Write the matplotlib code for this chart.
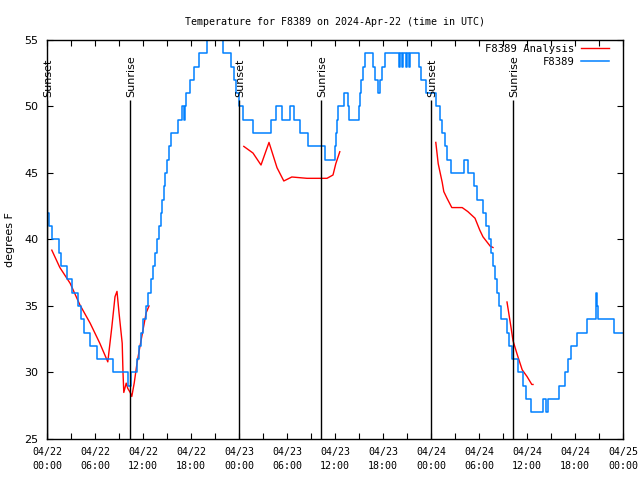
import numpy as np
import matplotlib
matplotlib.use('Agg')
import matplotlib.pyplot as plt

# hours since 04/22 00:00 UTC
obs_hours = [0.0, 0.25, 0.6, 1.5, 1.75, 2.5, 3.1, 3.9, 4.25, 4.6, 5.4, 6.25, 8.25, 10.1, 10.5,
             11.25, 11.5, 11.75, 12.0, 12.4, 12.6, 13.0, 13.25, 13.5, 13.75, 14.0, 14.25, 14.4,
             14.6, 14.75, 15.0, 15.25, 15.5, 16.4, 16.9, 17.1, 17.25, 17.4, 17.9, 18.4, 19.0,
             20.0, 20.4, 21.6, 22.0, 23.0, 23.4, 23.6, 24.0, 24.5, 25.75, 28.0, 28.6, 29.4,
             30.4, 30.9, 31.6, 32.6, 34.75, 36.0, 36.1, 36.25, 36.4, 37.1, 37.6, 37.75, 39.0,
             39.1, 39.25, 39.5, 39.75, 40.75, 41.0, 41.4, 41.6, 41.9, 42.25, 44.0, 44.1, 44.4,
             44.5, 44.9, 45.0, 45.25, 45.4, 46.5, 46.75, 47.4, 48.6, 49.1, 49.4, 49.75, 50.0,
             50.5, 52.1, 52.6, 53.4, 53.75, 54.5, 54.9, 55.25, 55.5, 55.75, 56.0, 56.25, 56.5,
             56.75, 57.5, 57.75, 58.1, 58.9, 59.5, 59.9, 60.5, 62.0, 62.4, 62.6, 64.0, 64.75,
             65.1, 65.5, 66.25, 67.5, 68.6, 68.75, 68.9, 70.9, 72.0]
obs_temp = [42, 41, 40, 39, 38, 37, 36, 35, 34, 33, 32, 31, 30, 29, 30,
            31, 32, 33, 34, 35, 36, 37, 38, 39, 40, 41, 42, 43,
            44, 45, 46, 47, 48, 49, 50, 49, 50, 51, 52, 53, 54,
            55, 56, 55, 54, 53, 52, 51, 50, 49, 48, 49, 50, 49,
            50, 49, 48, 47, 46, 47, 48, 49, 50, 51, 50, 49, 50,
            51, 52, 53, 54, 53, 52, 51, 52, 53, 54, 53, 54, 53,
            54, 53, 54, 53, 54, 53, 52, 51, 50, 49, 48, 47, 46,
            45, 46, 45, 44, 43, 42, 41, 40, 39, 38, 37, 36, 35,
            34, 33, 32, 31, 30, 29, 28, 27, 28, 27, 28, 29, 30,
            31, 32, 33, 34, 36, 35, 34, 33, 33]

nan = np.nan
ana_hours = [0.6, 1.6, 2.9, 4.1, 5.4, 6.6, 7.6, 8.1, 8.5, 8.75, 9.0, 9.4, 9.5, 9.6, 9.9,
             10.1, 10.4, 10.6, 10.9, 11.25, 11.6, 12.0, 12.4, 12.75, 13.0,
             24.6, 25.75, 26.75, 27.75, 28.75, 29.6, 30.6, 32.5, 33.25, 35.0, 35.75, 36.1, 36.6, 37.0,
             48.6, 48.9, 49.4, 49.6, 50.0, 50.6, 51.9, 52.6, 53.5, 54.1, 54.5, 55.4, 55.75, 56.0,
             57.5, 58.0, 58.25, 58.75, 59.4, 60.0, 60.6, 60.75]
ana_temp = [39.2, 37.9, 36.7, 35.1, 33.7, 32.2, 30.8, 33.4, 35.7, 36.1, 34.5, 32.2, 30.0, 28.5, 29.2,
            28.8, 28.5, 28.2, 29.2, 30.7, 31.9, 33.2, 34.5, 35.0, nan,
            47.0, 46.5, 45.6, 47.3, 45.4, 44.4, 44.7, 44.6, 44.6, 44.6, 44.85, 45.7, 46.6, nan,
            47.3, 45.7, 44.3, 43.6, 43.1, 42.4, 42.4, 42.1, 41.6, 40.7, 40.2, 39.5, 39.4, nan,
            35.3, 33.4, 32.4, 31.4, 30.2, 29.7, 29.1, 29.1]

sun_hours = [0.0, 10.4, 24.0, 34.25, 48.0, 58.25]
sun_labels = ['Sunset', 'Sunrise', 'Sunset', 'Sunrise', 'Sunset', 'Sunrise']

tick_hours = list(range(0, 73, 6))
tick_labels = ['04/22\n00:00', '04/22\n06:00', '04/22\n12:00', '04/22\n18:00',
               '04/23\n00:00', '04/23\n06:00', '04/23\n12:00', '04/23\n18:00',
               '04/24\n00:00', '04/24\n06:00', '04/24\n12:00', '04/24\n18:00',
               '04/25\n00:00']

mono = 'DejaVu Sans Mono'

fig = plt.figure(figsize=(6.4, 4.8), dpi=100)
ax = fig.add_axes([47/640, 1 - 439/480, 576/640, 399/480])

ax.plot(ana_hours, ana_temp, color='#ff0000', lw=1.0, label='F8389 Analysis')
ax.plot(obs_hours, obs_temp, color='#0080ff', lw=1.1, drawstyle='steps-post', label='F8389')

ax.vlines(sun_hours, 25, 50.5, color='black', lw=1.0)
for h, s in zip(sun_hours, sun_labels):
    ax.text(h + 0.1, 50.7, s, rotation=90, ha='center', va='bottom', fontsize=8,
            family='DejaVu Sans')

ax.set_xlim(0, 72)
ax.set_ylim(25, 55)
ax.set_xticks(tick_hours)
ax.set_xticklabels(tick_labels, family=mono, fontsize=7.2)
for lbl in ax.get_xticklabels():
    lbl.set_linespacing(1.5)
ax.set_xticks(np.arange(3, 72, 6), minor=True)
ax.set_yticks([25, 30, 35, 40, 45, 50, 55])
ax.set_yticklabels(['25', '30', '35', '40', '45', '50', '55'], family='DejaVu Sans', fontsize=8)
ax.tick_params(which='both', direction='in', length=4, top=True, right=True, width=0.8)
ax.tick_params(axis='x', pad=6)
ax.tick_params(axis='y', pad=6)

for sp in ax.spines.values():
    sp.set_linewidth(1.0)

ax.set_title('Temperature for F8389 on 2024-Apr-22 (time in UTC)', family=mono, fontsize=7.2, pad=11)
fig.text(10/640, 0.5, 'degrees F', rotation=90, ha='center', va='center', fontsize=8)

leg = ax.legend(loc='upper right', frameon=False, markerfirst=False, prop={'family': mono, 'size': 7.6},
                handlelength=2.7, borderaxespad=0, borderpad=0, labelspacing=0.3, handletextpad=0.6,
                bbox_to_anchor=(609/640, 1 - 44/480), bbox_transform=fig.transFigure)

fig.savefig('out.png', dpi=100)
